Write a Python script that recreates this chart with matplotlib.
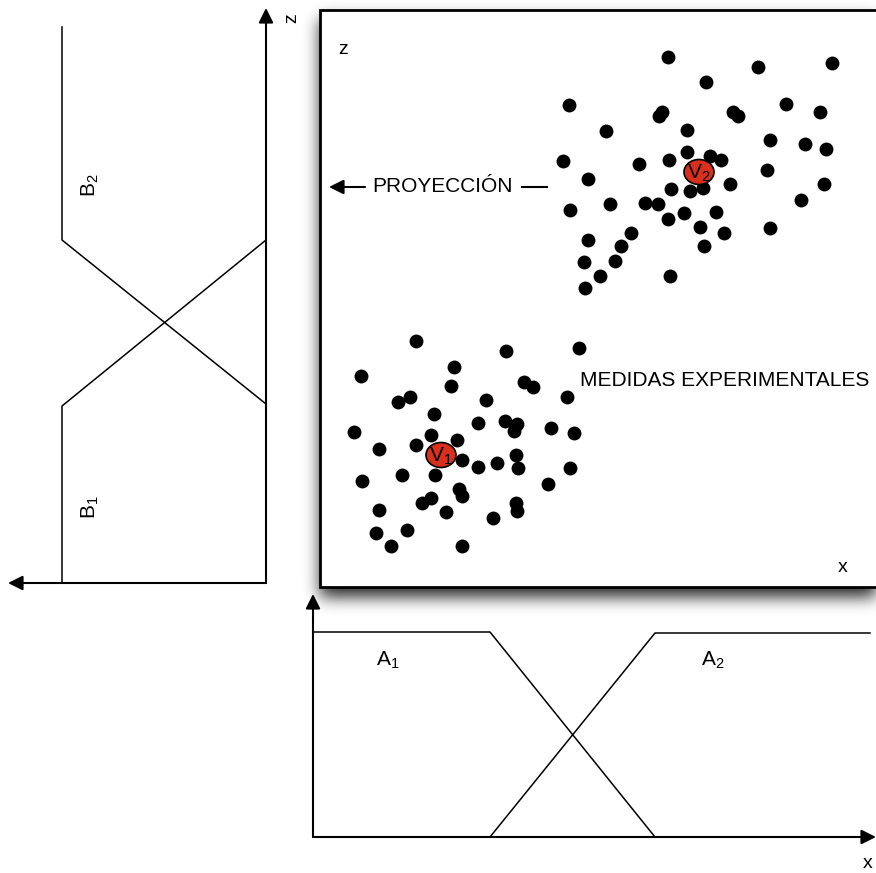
import numpy as np
import matplotlib
matplotlib.use("Agg")
import matplotlib.pyplot as plt
from matplotlib.patches import Ellipse, Rectangle

plt.rcParams["font.family"] = ["Liberation Sans", "DejaVu Sans"]
plt.rcParams["mathtext.default"] = "regular"

W, H = 876, 873

# medidas experimentales (x, z) — cúmulo superior e inferior
upper_x = [668, 832, 758, 706, 569, 662, 659, 733, 738, 786, 820, 606, 687, 770, 805, 826,
           563, 639, 669, 687, 710, 721, 767, 588, 730, 824, 671, 690, 703, 658, 645, 610,
           570, 716, 801, 684, 668, 700, 724, 770, 631, 588, 621, 704, 584, 615, 600, 670, 585]
upper_z = [57, 63, 67, 82, 105, 112, 116, 112, 116, 104, 112, 131, 130, 140, 144, 149,
           161, 164, 160, 152, 156, 160, 170, 179, 184, 184, 189, 191, 188, 204, 203, 204,
           210, 212, 200, 213, 219, 227, 233, 228, 233, 240, 246, 246, 262, 261, 276, 276, 288]
lower_x = [416, 506, 579, 361, 454, 524, 533, 451, 410, 398, 486, 567, 434, 478, 505, 517,
           514, 551, 574, 354, 431, 457, 379, 416, 516, 462, 478, 497, 518, 570, 402, 435,
           362, 548, 459, 462, 431, 422, 516, 446, 379, 493, 517, 407, 376, 391, 462]
lower_z = [341, 351, 348, 376, 367, 382, 387, 386, 397, 402, 400, 397, 414, 423, 421, 424,
           431, 428, 433, 432, 435, 440, 449, 445, 455, 460, 467, 463, 468, 468, 475, 475,
           481, 484, 489, 496, 498, 503, 503, 512, 510, 518, 511, 530, 533, 546, 546]

# centros de los cúmulos
centers = {"V_1": (441, 455), "V_2": (699, 172)}

# funciones de pertenencia en x (panel inferior)
A1_x = [313, 490, 655]
A1_y = [632, 632, 837]
A2_x = [490, 655, 870]
A2_y = [837, 633, 633]
# funciones de pertenencia en z (panel izquierdo, girado)
B2_x = [62, 62, 266]
B2_y = [27, 240, 404]
B1_x = [62, 62, 266]
B1_y = [583, 406, 240]

fig = plt.figure(figsize=(W / 100, H / 100), dpi=100)
ax = fig.add_axes([0, 0, 1, 1])
ax.set_xlim(0, W)
ax.set_ylim(H, 0)
ax.axis("off")

# sombra difusa del recuadro principal
box = (320, 10, 880, 587)
yy, xx = np.mgrid[0:H, 0:W]
mask = ((xx >= box[0]) & (xx <= box[2]) & (yy >= box[1] + 9) & (yy <= box[3] + 9)).astype(float)
k = np.exp(-0.5 * (np.arange(-24, 25) / 8.0) ** 2)
k /= k.sum()
mask = np.apply_along_axis(lambda r: np.convolve(r, k, mode="same"), 0, mask)
mask = np.apply_along_axis(lambda r: np.convolve(r, k, mode="same"), 1, mask)
shadow = np.zeros((H, W, 4))
shadow[..., 3] = 0.85 * mask
ax.imshow(shadow, extent=(0, W, H, 0), zorder=1, interpolation="bilinear")
ax.add_patch(Rectangle((box[0], box[1]), box[2] - box[0], box[3] - box[1],
                       facecolor="white", edgecolor="black", lw=2, zorder=2))


def arrow(tail, tip):
    ax.annotate("", xy=tip, xytext=tail, annotation_clip=False,
                arrowprops=dict(arrowstyle="-|>", color="black", lw=1.5,
                                mutation_scale=22, shrinkA=0, shrinkB=0), zorder=3)


# ejes del panel izquierdo
arrow((266, 583), (266, 8))
arrow((266, 583), (8, 583))
ax.text(292, 18, "z", rotation=90, fontsize=14, ha="center", va="center")
# ejes del panel inferior
arrow((313, 837), (313, 594))
arrow((313, 837), (876, 837))
ax.text(868, 864, "x", fontsize=14, ha="center", va="center")

for xs, ys in [(A1_x, A1_y), (A2_x, A2_y), (B2_x, B2_y), (B1_x, B1_y)]:
    ax.plot(xs, ys, color="black", lw=1.1, zorder=3)

ax.text(388, 660, "$A_1$", fontsize=15, ha="center", va="center")
ax.text(713, 660, "$A_2$", fontsize=15, ha="center", va="center")
ax.text(90, 185, "$B_2$", fontsize=15, rotation=90, ha="center", va="center")
ax.text(90, 507, "$B_1$", fontsize=15, rotation=90, ha="center", va="center")

# recuadro de medidas
ax.scatter(upper_x + lower_x, upper_z + lower_z, s=100, color="black", zorder=4, linewidths=0)
for name, (cx, cz) in centers.items():
    ax.add_patch(Ellipse((cx, cz), 30, 25, facecolor="#d8301c", edgecolor="black", lw=1.2, zorder=5))
    ax.text(cx, cz + 1, "$" + name + "$", fontsize=15, ha="center", va="center", zorder=6)

ax.text(343, 50, "z", fontsize=14, ha="center", va="center", zorder=4)
ax.text(843, 568, "x", fontsize=14, ha="center", va="center", zorder=4)
ax.text(372, 187, "PROYECCIÓN", fontsize=15, ha="left", va="center", zorder=4)
arrow((365, 187), (329, 187))
ax.plot([522, 547], [187, 187], color="black", lw=1.5, zorder=4)
ax.text(580, 380, "MEDIDAS EXPERIMENTALES", fontsize=15, ha="left", va="center", zorder=4)

fig.savefig("out.png", dpi=100)
